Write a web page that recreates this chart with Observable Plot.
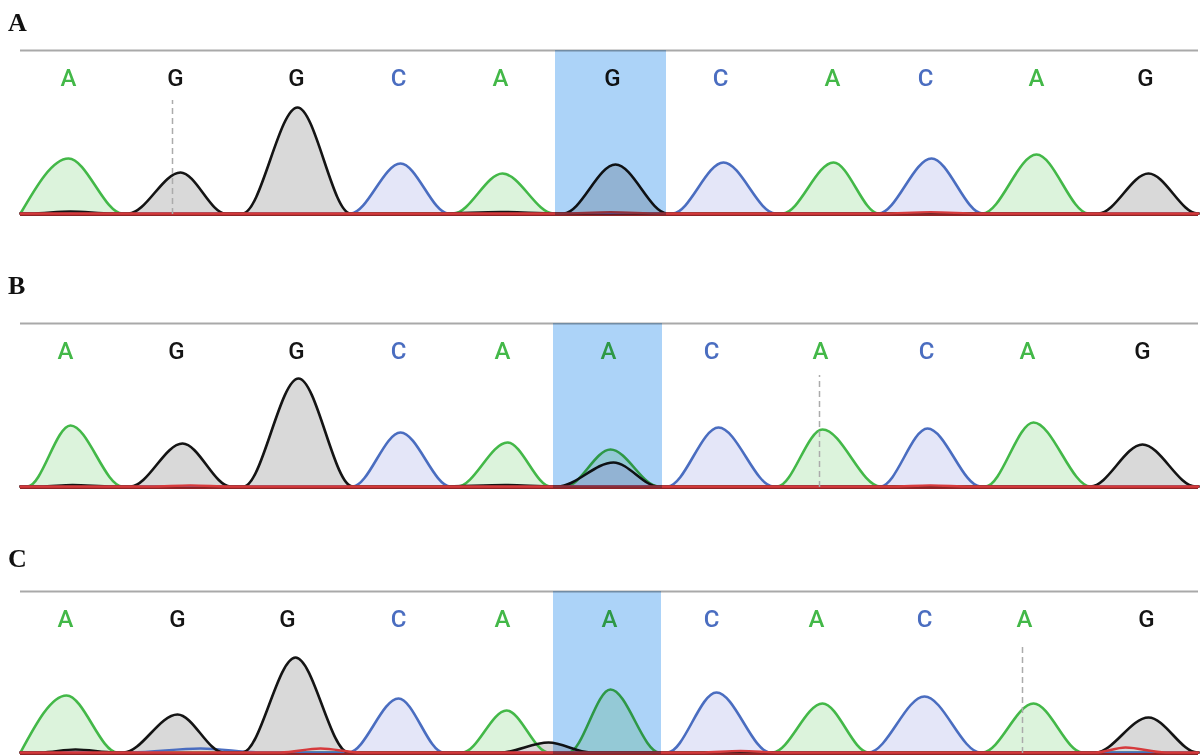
<!DOCTYPE html>
<html><head><meta charset="utf-8">
<script src="https://cdn.jsdelivr.net/npm/d3@7"></script>
<script src="https://cdn.jsdelivr.net/npm/@observablehq/plot@0.6"></script>
<style>
body{margin:0;background:#fff;overflow:hidden;width:1203px;height:756px;position:relative;}
.lbl{position:absolute;left:8px;font:bold 26px "Liberation Serif","Times New Roman",serif;line-height:26px;color:#111;}
.panel{position:absolute;left:0;}
</style></head><body>
<script>
// ---- Data (scan positions and peak heights) ----
const panelNames = ["A", "B", "C"];
const scanRange = [20, 1198];

// base calls and their scan positions
const callsA = ["A","G","G","C","A","G","C","A","C","A","G"];
const callsB = ["A","G","G","C","A","A","C","A","C","A","G"];
const callsC = ["A","G","G","C","A","A","C","A","C","A","G"];
const callPosA = [68,175,296,398,500,612,720,832,925,1036,1145];
const callPosB = [65,176,296,398,502,608,711,820,926,1027,1142];
const callPosC = [65,177,287,398,502,609,711,816,924,1024,1146];

// highlighted (edited) position window
const highlightA = [555, 666];
const highlightB = [553, 662];
const highlightC = [553, 661];

// dashed cursor position and its height
const cursorA = [172, 113];
const cursorB = [819, 111];
const cursorC = [1022, 109];

// peaks per dye channel: [start, apex, end, height]
const peaksA_A = [[20,68,122,55],[453,502,553,40],[782,833,878,51],[982,1036,1088,59]];
const peaksA_C = [[350,400,448,50],[672,723,775,51],[878,931,982,55]];
const peaksA_G = [[30,70,112,2],[128,180,225,41],[242,297,350,106],[440,500,556,1.5],[563,615,667,49],[1098,1148,1197,40]];
const peaksA_T = [[560,610,660,1.2],[880,930,980,1.2]];

const peaksB_A = [[27,70,122,61],[457,507,550,44],[565,610,658,37],[777,822,880,57],[985,1033,1090,64]];
const peaksB_C = [[352,400,450,54],[667,718,773,59],[880,927,980,58]];
const peaksB_G = [[40,72,112,1.5],[130,182,230,43],[243,298,352,108],[440,505,553,1.5],[557,613,658,24],[1090,1142,1195,42]];
const peaksB_T = [[150,190,230,1],[890,930,970,1]];

const peaksC_A = [[20,66,117,57],[462,506,548,42],[568,610,659,63],[772,822,868,49],[982,1033,1082,49]];
const peaksC_C = [[130,200,262,4],[348,398,443,54],[667,716,770,60],[868,924,980,56]];
const peaksC_G = [[40,75,115,3],[123,177,223,38],[242,295,348,95],[500,548,590,10],[1095,1148,1197,35]];
const peaksC_T = [[280,320,360,4],[700,740,780,1.5],[1095,1125,1165,5]];

// ---- layout ----
const layout = {
  A: {line: 50, base: 213, labelTop: 10},
  B: {line: 323, base: 486, labelTop: 273},
  C: {line: 591, base: 752, labelTop: 546}
};
const baseColor = {A: "#43b848", C: "#4a6dc0", G: "#141414", T: "#d63a3c"};
const fillColor = {A: "#dcf3dc", C: "#e4e6f8", G: "#d9d9d9", T: "none"};

const panels = {
  A: {calls: callsA, pos: callPosA, hl: highlightA, cursor: cursorA,
      peaks: {A: peaksA_A, C: peaksA_C, G: peaksA_G, T: peaksA_T}},
  B: {calls: callsB, pos: callPosB, hl: highlightB, cursor: cursorB,
      peaks: {A: peaksB_A, C: peaksB_C, G: peaksB_G, T: peaksB_T}},
  C: {calls: callsC, pos: callPosC, hl: highlightC, cursor: cursorC,
      peaks: {A: peaksC_A, C: peaksC_C, G: peaksC_G, T: peaksC_T}}
};

function tracePoints(peaks) {
  const pts = [{x: scanRange[0], y: 0}];
  const sorted = peaks.slice().sort((a, b) => a[0] - b[0]);
  for (const [s, c, e, h] of sorted) {
    pts.push({x: s, y: 0}, {x: c, y: h}, {x: e, y: 0});
  }
  pts.push({x: scanRange[1], y: 0});
  const out = [];
  for (const p of pts) {
    if (out.length && p.x <= out[out.length - 1].x) continue;
    out.push(p);
  }
  return out;
}

for (const name of panelNames) {
  const P = panels[name];
  const L = layout[name];
  const lineH = L.base - L.line;
  const mt = 4, mb = 6;
  const H = lineH + mt + mb;

  const lbl = document.createElement("div");
  lbl.className = "lbl";
  lbl.style.top = L.labelTop + "px";
  lbl.textContent = name;
  document.body.appendChild(lbl);

  const order = ["A", "C", "G"];
  const traces = {};
  for (const ch of ["A", "C", "G", "T"]) traces[ch] = tracePoints(P.peaks[ch]);

  const marks = [];
  for (const ch of order) {
    marks.push(Plot.areaY(traces[ch], {x: "x", y: "y", curve: "monotone-x", fill: fillColor[ch]}));
  }
  for (const ch of order) {
    marks.push(Plot.line(traces[ch], {x: "x", y: "y", curve: "monotone-x", stroke: baseColor[ch], strokeWidth: 2.6}));
  }
  marks.push(Plot.ruleY([0], {x1: scanRange[0], x2: scanRange[1], stroke: "#8e2426", strokeWidth: 2, dy: 1.5}));
  marks.push(Plot.line(traces.T, {x: "x", y: "y", curve: "monotone-x", stroke: baseColor.T, strokeWidth: 2.4}));
  marks.push(Plot.ruleY([lineH], {x1: scanRange[0], x2: scanRange[1], stroke: "#a9a9a9", strokeWidth: 2}));
  marks.push(Plot.ruleX([P.cursor], {x: d => d[0], y1: -1, y2: d => d[1], stroke: "#ababab", strokeWidth: 1.5, strokeDasharray: "6,4"}));
  marks.push(Plot.text(P.calls, {
    x: (d, i) => P.pos[i], text: d => d, frameAnchor: "top", lineAnchor: "middle", dy: 28,
    fill: d => baseColor[d], fontSize: 24, fontWeight: 500, fontFamily: "Roboto, 'Noto Sans', sans-serif"
  }));
  marks.push(Plot.rect([P.hl], {x1: d => d[0], x2: d => d[1], y1: -2, y2: lineH, fill: "#acd3f8", mixBlendMode: "multiply"}));

  const svg = Plot.plot({
    width: 1203, height: H,
    marginLeft: 0, marginRight: 0, marginTop: mt, marginBottom: mb,
    x: {domain: [0, 1203], axis: null},
    y: {domain: [0, lineH], axis: null},
    style: {background: "transparent", overflow: "visible"},
    marks
  });
  const wrap = document.createElement("div");
  wrap.className = "panel";
  wrap.style.top = (L.line - mt) + "px";
  wrap.appendChild(svg);
  document.body.appendChild(wrap);
}
</script>
</body></html>
